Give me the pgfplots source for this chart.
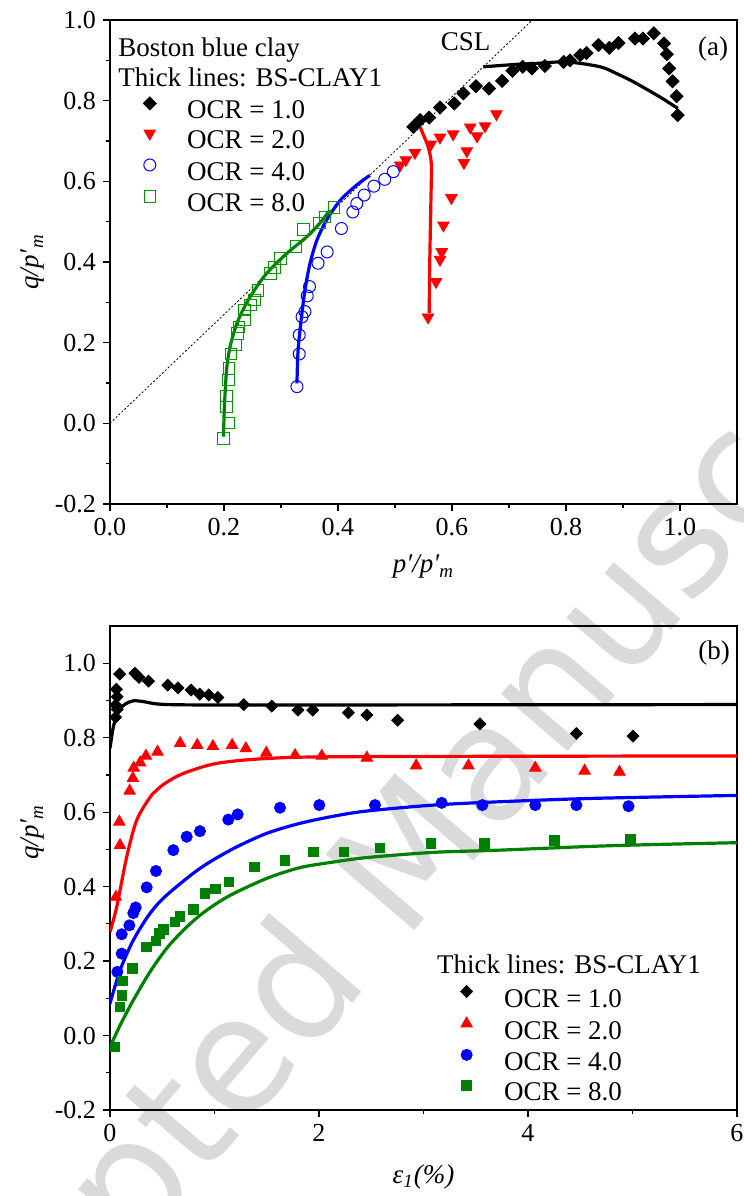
\documentclass[border=0pt]{standalone}
\usepackage{fontspec}
\setmainfont{Liberation Serif}
\newfontfamily\wmfont{DejaVu Sans}
\usepackage{pgfplots}
\pgfplotsset{compat=1.18}

\definecolor{ocrgreen}{RGB}{0,128,0}
\definecolor{sqgreen}{RGB}{0,150,0}
\definecolor{wmgray}{RGB}{218,218,218}

\newcommand{\lblfont}{\fontsize{13.5}{15}\selectfont}
\newcommand{\tckfont}{\fontsize{13}{15}\selectfont}

\pgfplotsset{
  panel/.style={
    scale only axis, width=313.5pt, height=242pt,
    axis line style={line width=0.8pt},
    every tick/.style={line width=0.6pt, black},
    tick align=outside, xtick pos=left, ytick pos=left,
    major tick length=3.5pt, minor tick length=2pt,
    minor tick num=1,
    tick label style={font=\tckfont},
    label style={font=\lblfont},
    /pgf/number format/assume math mode=true,
    ytick={-0.2,0,0.2,0.4,0.6,0.8,1.0},
    yticklabel style={/pgf/number format/.cd, fixed, fixed zerofill, precision=1},
    ylabel={\textit{q/p′}\textsubscript{\textit{m}}},
    legend cell align=left,
    legend style={draw=none, fill=none, inner sep=0pt, font=\lblfont,
      nodes={inner sep=0pt, text height=10pt, text depth=3pt},
      row sep=2pt, column sep=10.5pt},
    legend image code/.code={\draw[##1] plot coordinates {(0pt,4.3pt)}; \path (-8pt,0pt) (8pt,0pt);},
  },
  model/.style={line width=1.6pt, smooth, forget plot},
}

\begin{document}
\begin{tikzpicture}
\useasboundingbox (-55pt,-346pt) rectangle (317pt,252pt);

% page watermark, behind both panels
\node[rotate=49.5, text=wmgray, font=\wmfont\fontsize{80}{80}\selectfont, inner sep=0pt]
  at (145pt,-188pt) {Accepted Manuscript};

% ---------------- (a) stress paths ----------------
\begin{axis}[panel,
  xmin=0, xmax=1.1, ymin=-0.2, ymax=1.0,
  xtick={0,0.2,0.4,0.6,0.8,1.0},
  xticklabel style={/pgf/number format/.cd, fixed, fixed zerofill, precision=1},
  xlabel={\textit{p′/p′}\textsubscript{\textit{m}}},
  xlabel style={at={(axis description cs:0.5,-0.13)}, anchor=center},
  ylabel style={at={(axis description cs:-0.123,0.5)}, anchor=center},
  legend style={at={(axis description cs:0.0367,0.842)}, anchor=north west},
]
% critical state line
\addplot[black, line width=0.4pt, dash pattern=on 1pt off 1pt, forget plot]
  coordinates {(0,0) (0.741,1.0)};

\addplot[only marks, mark=square*, mark size=2.3pt, mark options={rotate=45, fill=black, draw=black}]
  coordinates {
  (0.532,0.735) (0.544,0.752) (0.560,0.758) (0.579,0.783) (0.604,0.793)
  (0.620,0.818) (0.642,0.836) (0.665,0.830) (0.688,0.849) (0.706,0.874)
  (0.724,0.884) (0.740,0.880) (0.763,0.886) (0.796,0.896) (0.807,0.900)
  (0.825,0.913) (0.836,0.918) (0.857,0.938) (0.876,0.931) (0.892,0.943)
  (0.921,0.954) (0.935,0.954) (0.954,0.967) (0.972,0.942) (0.977,0.915)
  (0.981,0.880) (0.987,0.848) (0.994,0.811) (0.996,0.764)};
\addlegendentry{OCR = 1.0}

\addplot[only marks, mark=triangle*, mark size=3.3pt, mark options={rotate=180, fill=red, draw=red}]
  coordinates {
  (0.678,0.767) (0.658,0.737) (0.632,0.734) (0.644,0.712) (0.602,0.717)
  (0.579,0.709) (0.563,0.692) (0.535,0.671) (0.519,0.653) (0.509,0.640)
  (0.626,0.675) (0.621,0.646) (0.599,0.559) (0.585,0.491) (0.582,0.425)
  (0.579,0.406) (0.572,0.351) (0.558,0.263)};
\addlegendentry{OCR = 2.0}

\addplot[only marks, mark=o, mark size=3pt, mark options={draw=blue, line width=0.5pt}]
  coordinates {
  (0.328,0.091) (0.332,0.172) (0.332,0.219) (0.337,0.264) (0.342,0.277)
  (0.346,0.316) (0.350,0.339) (0.365,0.397) (0.381,0.425) (0.406,0.483)
  (0.426,0.524) (0.433,0.545) (0.446,0.566) (0.463,0.588) (0.482,0.605)
  (0.497,0.624)};
\addlegendentry{OCR = 4.0}

\addplot[only marks, mark=square, mark size=2.9pt, mark options={draw=sqgreen, line width=0.5pt}]
  coordinates {
  (0.199,-0.037) (0.209,0.001) (0.204,0.041) (0.204,0.068) (0.208,0.107)
  (0.209,0.136) (0.212,0.172) (0.221,0.194) (0.224,0.223) (0.226,0.239)
  (0.236,0.256) (0.236,0.281) (0.246,0.293) (0.254,0.306) (0.260,0.329)
  (0.282,0.372) (0.289,0.387) (0.299,0.409) (0.326,0.438) (0.339,0.481)
  (0.368,0.497) (0.377,0.512) (0.393,0.535)};
\addlegendentry{OCR = 8.0}

% BS-CLAY1 predictions
\addplot[model, black] coordinates {
  (0.996,0.781) (0.965,0.809) (0.918,0.847) (0.889,0.867) (0.860,0.884)
  (0.801,0.896) (0.743,0.892) (0.713,0.890) (0.655,0.884)};
\addplot[model, red] coordinates {
  (0.560,0.273) (0.561,0.400) (0.563,0.553) (0.564,0.636) (0.561,0.670)
  (0.556,0.694) (0.544,0.735)};
\addplot[model, blue] coordinates {
  (0.328,0.099) (0.330,0.182) (0.336,0.264) (0.342,0.330) (0.351,0.397)
  (0.363,0.454) (0.380,0.504) (0.404,0.553) (0.433,0.591) (0.456,0.615)};
\addplot[model, ocrgreen] coordinates {
  (0.199,-0.033) (0.201,0.050) (0.205,0.140) (0.212,0.198) (0.225,0.256)
  (0.246,0.314) (0.275,0.372) (0.310,0.421) (0.345,0.462) (0.368,0.496)
  (0.386,0.529)};

\node[anchor=base west, inner sep=0pt, font=\lblfont] at (axis description cs:0.0128,0.9244) {Boston blue clay};
\node[anchor=base west, inner sep=0pt, font=\lblfont] at (axis description cs:0.0128,0.8624) {Thick lines: BS-CLAY1};
\node[font=\lblfont, inner sep=0pt] at (axis cs:0.624,0.946) {CSL};
\node[font=\lblfont, inner sep=0pt] at (axis cs:1.058,0.929) {(a)};
\end{axis}

% ---------------- (b) stress-strain ----------------
\begin{axis}[panel, at={(0pt,-303pt)},
  xmin=0, xmax=6, ymin=-0.2, ymax=1.1,
  xtick={0,2,4,6},
  xlabel={\textit{ε\textsubscript{1}(\%)}},
  xlabel style={at={(axis description cs:0.5,-0.138)}, anchor=center},
  ylabel style={at={(axis description cs:-0.123,0.574)}, anchor=center},
  legend style={at={(axis description cs:0.542,0.258)}, anchor=north west},
]
\addplot[only marks, mark=square*, mark size=2.1pt, mark options={rotate=45, fill=black, draw=black}]
  coordinates {
  (0.054,0.855) (0.069,0.876) (0.054,0.888) (0.069,0.910) (0.061,0.930)
  (0.093,0.971) (0.238,0.973) (0.278,0.962) (0.368,0.952) (0.553,0.941)
  (0.651,0.934) (0.777,0.928) (0.859,0.917) (0.946,0.915) (1.033,0.908)
  (1.280,0.889) (1.548,0.885) (1.799,0.874) (1.940,0.874) (2.282,0.867)
  (2.459,0.861) (2.753,0.847) (3.540,0.837) (4.463,0.811) (5.005,0.804)};
\addlegendentry{OCR = 1.0}

\addplot[only marks, mark=triangle*, mark size=3.3pt, mark options={fill=red, draw=red}]
  coordinates {
  (0.057,0.372) (0.096,0.511) (0.089,0.574) (0.188,0.657) (0.219,0.691)
  (0.227,0.719) (0.289,0.733) (0.344,0.751) (0.455,0.762) (0.671,0.785)
  (0.835,0.780) (0.985,0.777) (1.169,0.780) (1.300,0.771) (1.496,0.759)
  (1.771,0.753) (2.027,0.751) (2.458,0.746) (2.930,0.725) (3.430,0.725)
  (4.070,0.719) (4.542,0.711) (4.876,0.708)};
\addlegendentry{OCR = 2.0}

\addplot[only marks, mark=*, mark size=2.8pt, mark options={fill=blue, draw=blue}]
  coordinates {
  (0.070,0.171) (0.112,0.220) (0.112,0.272) (0.185,0.296) (0.223,0.329)
  (0.246,0.344) (0.351,0.398) (0.440,0.442) (0.606,0.498) (0.734,0.534)
  (0.861,0.549) (1.132,0.580) (1.222,0.594) (1.627,0.612) (2.003,0.619)
  (2.536,0.619) (3.174,0.625) (3.563,0.619) (4.070,0.619) (4.463,0.619)
  (4.962,0.616)};
\addlegendentry{OCR = 4.0}

\addplot[only marks, mark=square*, mark size=2.4pt, mark options={fill=ocrgreen, draw=ocrgreen}]
  coordinates {
  (0.048,-0.031) (0.096,0.077) (0.112,0.108) (0.121,0.147) (0.217,0.180)
  (0.351,0.238) (0.440,0.254) (0.472,0.274) (0.510,0.285) (0.622,0.305)
  (0.670,0.320) (0.797,0.339) (0.909,0.381) (1.011,0.394) (1.139,0.413)
  (1.381,0.453) (1.675,0.471) (1.946,0.493) (2.239,0.493) (2.584,0.504)
  (3.072,0.516) (3.582,0.516) (4.250,0.524) (4.980,0.527)};
\addlegendentry{OCR = 8.0}

\addplot[model, black] coordinates {
  (0,0.771) (0.032,0.829) (0.080,0.870) (0.144,0.890) (0.223,0.899)
  (0.319,0.897) (0.478,0.890) (0.861,0.888) (2.300,0.888) (6,0.889)};
\addplot[model, red] coordinates {
  (0,0.278) (0.064,0.345) (0.160,0.480) (0.255,0.578) (0.383,0.640)
  (0.447,0.659) (0.530,0.678) (0.702,0.704) (1.021,0.731) (1.499,0.744)
  (2.300,0.749) (6,0.751)};
\addplot[model, blue] coordinates {
  (0,0.086) (0.096,0.175) (0.223,0.256) (0.383,0.328) (0.542,0.377)
  (0.861,0.449) (1.180,0.502) (1.499,0.543) (1.818,0.570) (2.137,0.589)
  (2.456,0.603) (3.094,0.619) (3.732,0.628) (4.620,0.637) (6,0.645)};
\addplot[model, ocrgreen] coordinates {
  (0,-0.031) (0.096,0.027) (0.223,0.095) (0.383,0.171) (0.542,0.234)
  (0.702,0.283) (0.861,0.323) (1.021,0.355) (1.180,0.381) (1.499,0.422)
  (1.818,0.451) (2.137,0.466) (2.456,0.478) (3.094,0.492) (3.732,0.498)
  (4.800,0.510) (6,0.518)};

\node[anchor=base west, inner sep=0pt, font=\lblfont] at (axis description cs:0.521,0.2818) {Thick lines: BS-CLAY1};
\node[font=\lblfont, inner sep=0pt] at (axis cs:5.78,1.027) {(b)};
\end{axis}
\end{tikzpicture}
\end{document}
